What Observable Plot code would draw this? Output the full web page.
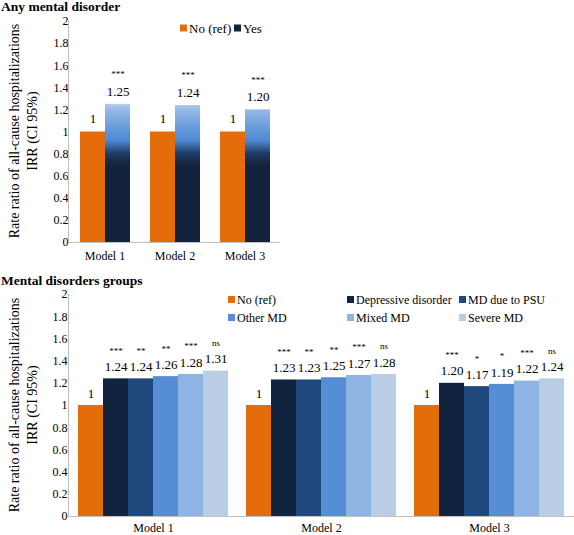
<!DOCTYPE html>
<html><head><meta charset="utf-8">
<script src="https://cdn.jsdelivr.net/npm/d3@7"></script>
<script src="https://cdn.jsdelivr.net/npm/@observablehq/plot@0.6"></script>
<style>
html,body{margin:0;padding:0;background:#fff;overflow:hidden}
#wrap{position:relative;width:574px;height:535px;font-family:"Liberation Serif","Times New Roman",Tinos,"DejaVu Serif","Noto Serif",serif;color:#000}
.title{position:absolute;font-weight:bold;font-size:13.5px;white-space:nowrap;line-height:1}
.ytitle{position:absolute;width:260px;height:36px;text-align:center;font-size:14px;line-height:18px;transform:rotate(-90deg);white-space:nowrap}
.li{position:absolute;white-space:nowrap;transform:translateY(-50%);line-height:1}
.sw{display:inline-block;width:7px;height:7px;margin-right:2px;position:relative;top:-1px}
.plot{position:absolute;left:0}
.plot text{font-family:"Liberation Serif","Times New Roman",Tinos,"DejaVu Serif","Noto Serif",serif}
</style></head>
<body><div id="wrap"></div>
<script>
// ---------- data ----------
const models = ["Model 1", "Model 2", "Model 3"];
const yTicks = [0, 0.2, 0.4, 0.6, 0.8, 1, 1.2, 1.4, 1.6, 1.8, 2];

// Panel 1: any mental disorder
const anyGroups = ["No (ref)", "Yes"];
const anyNo = [1, 1, 1];
const anyYes = [1.25, 1.24, 1.20];
const anyYesSig = ["***", "***", "***"];

// Panel 2: mental disorder groups
const mdGroups = ["No (ref)", "Depressive disorder", "MD due to PSU", "Other MD", "Mixed MD", "Severe MD"];
const mdNoRef      = [1, 1, 1];
const mdDepressive = [1.24, 1.23, 1.20];
const mdPSU        = [1.24, 1.23, 1.17];
const mdOther      = [1.26, 1.25, 1.19];
const mdMixed      = [1.28, 1.27, 1.22];
const mdSevere     = [1.31, 1.28, 1.24];
const mdNoRefSig      = ["", "", ""];
const mdDepressiveSig = ["***", "***", "***"];
const mdPSUSig        = ["**", "**", "*"];
const mdOtherSig      = ["**", "**", "*"];
const mdMixedSig      = ["***", "***", "***"];
const mdSevereSig     = ["ns", "ns", "ns"];

// ---------- styles ----------
const orange = "#e46c0a";
const navy = "#13233d";
const mdColors = [orange, "#10233f", "#1f497d", "#558ed5", "#8db4e2", "#b9cde5"];
const gradStops = [[0, "#13233d"], [0.70, "#13233d"], [0.80, "#1e3b63"], [0.92, "#4f89d2"], [1.0, "#5f95d8"], [1.19, "#93b8e5"], [1.23, "#a6c4ea"], [1.26, "#c4d8f0"]];
const font = '"Liberation Serif", "Times New Roman", Tinos, "DejaVu Serif", "Noto Serif", serif';

// ---------- build data tables ----------
const anyData = models.flatMap((m, i) => [
  {model: m, group: anyGroups[0], value: anyNo[i], sig: ""},
  {model: m, group: anyGroups[1], value: anyYes[i], sig: anyYesSig[i]}
]);
const mdSeries = [mdNoRef, mdDepressive, mdPSU, mdOther, mdMixed, mdSevere];
const mdSigs = [mdNoRefSig, mdDepressiveSig, mdPSUSig, mdOtherSig, mdMixedSig, mdSevereSig];
const mdData = models.flatMap((m, i) => mdGroups.map((g, j) => ({model: m, group: g, value: mdSeries[j][i], sig: mdSigs[j][i]})));
const fmt = v => v === 1 ? "1" : v.toFixed(2);

const wrap = document.getElementById("wrap");

function decorate(svg, ml, mr) {
  const y = svg.scale("y");
  const W = +svg.getAttribute("width");
  const s = d3.select(svg);
  s.append("line").attr("x1", ml + 0.5).attr("x2", ml + 0.5).attr("y1", y.apply(2)).attr("y2", y.apply(0))
    .attr("stroke", "#bfbfbf").attr("shape-rendering", "crispEdges");
  s.append("line").attr("x1", ml).attr("x2", W - mr).attr("y1", y.apply(0) + 0.5).attr("y2", y.apply(0) + 0.5)
    .attr("stroke", "#bfbfbf").attr("shape-rendering", "crispEdges");
}

// ---------- panel 1 ----------
const p1 = Plot.plot({
  width: 280, height: 268,
  marginTop: 21, marginBottom: 26, marginLeft: 68, marginRight: 0,
  style: {fontFamily: font, fontSize: "12px", color: "#000", background: "transparent", overflow: "visible"},
  fx: {domain: models, paddingInner: 0.277, paddingOuter: 0.1385, label: null, axis: "bottom", tickSize: 0, tickPadding: 9},
  x: {domain: anyGroups, padding: 0, axis: null},
  y: {domain: [0, 2], ticks: yTicks, tickSize: 0, tickPadding: 11, label: null, tickFormat: d => String(d)},
  marks: [
    Plot.barY(anyData, {filter: d => d.group === anyGroups[0], fx: "model", x: "group", y: "value", fill: orange}),
    Plot.barY(anyData, {filter: d => d.group === anyGroups[1], fx: "model", x: "group", y: "value", fill: "url(#gradYes)"}),
    Plot.text(anyData, {fx: "model", x: "group", y: "value", text: d => fmt(d.value), dy: -13, fontSize: 13}),
    Plot.text(anyData, {fx: "model", x: "group", y: "value", text: "sig", dy: -30, fontSize: 9})
  ]
});
p1.classList.add("plot");
p1.style.top = "0px";
decorate(p1, 68, 0);
{
  const y = p1.scale("y");
  const defs = d3.select(p1).insert("defs", ":first-child");
  const g = defs.append("linearGradient").attr("id", "gradYes").attr("gradientUnits", "userSpaceOnUse")
    .attr("x1", 0).attr("x2", 0).attr("y1", y.apply(0)).attr("y2", y.apply(1.3));
  gradStops.forEach(([v, c]) => g.append("stop").attr("offset", v / 1.3).attr("stop-color", c));
}
wrap.appendChild(p1);

// ---------- panel 2 ----------
const p2 = Plot.plot({
  width: 574, height: 265,
  marginTop: 24, marginBottom: 19, marginLeft: 68, marginRight: 0.5,
  style: {fontFamily: font, fontSize: "12px", color: "#000", background: "transparent", overflow: "visible"},
  fx: {domain: models, paddingInner: 0.11, paddingOuter: 0.055, label: null, axis: "bottom", tickSize: 0, tickPadding: 7},
  x: {domain: mdGroups, padding: 0, axis: null},
  y: {domain: [0, 2], ticks: yTicks, tickSize: 0, tickPadding: 11, label: null, tickFormat: d => String(d)},
  color: {domain: mdGroups, range: mdColors},
  marks: [
    Plot.barY(mdData, {fx: "model", x: "group", y: "value", fill: "group"}),
    Plot.text(mdData, {fx: "model", x: "group", y: "value", text: d => fmt(d.value), dy: -12, fontSize: 13}),
    Plot.text(mdData, {fx: "model", x: "group", y: "value", text: "sig", dy: -28, fontSize: 9})
  ]
});
p2.classList.add("plot");
p2.style.top = "270px";
decorate(p2, 68, 0.5);
wrap.appendChild(p2);

// ---------- titles ----------
function addDiv(cls, html, left, top) {
  const d = document.createElement("div");
  d.className = cls; d.innerHTML = html;
  d.style.left = left + "px"; d.style.top = top + "px";
  wrap.appendChild(d);
  return d;
}
addDiv("title", "Any mental disorder", 1, 0);
addDiv("title", "Mental disorders groups", 1, 274);
addDiv("ytitle", "Rate ratio of all-cause hospitalizations<br>IRR (CI 95%)", -106, 113);
addDiv("ytitle", "Rate ratio of all-cause hospitalizations<br>IRR (CI 95%)", -106, 387);

// ---------- legends ----------
function legendItem(label, color, left, top, size) {
  const d = addDiv("li", `<span class="sw" style="background:${color}"></span>${label}`, left, top);
  d.style.fontSize = size + "px";
}
const anyColors = [orange, navy];
const anyLegPos = [[180, 28], [234, 28]];
anyGroups.forEach((g, i) => legendItem(g, anyColors[i], anyLegPos[i][0], anyLegPos[i][1], 13));
const mdLegPos = [[228, 300], [347, 300], [459, 300], [228, 318], [347, 318], [459, 318]];
mdGroups.forEach((g, i) => legendItem(g, mdColors[i], mdLegPos[i][0], mdLegPos[i][1], 12));
</script></body></html>
